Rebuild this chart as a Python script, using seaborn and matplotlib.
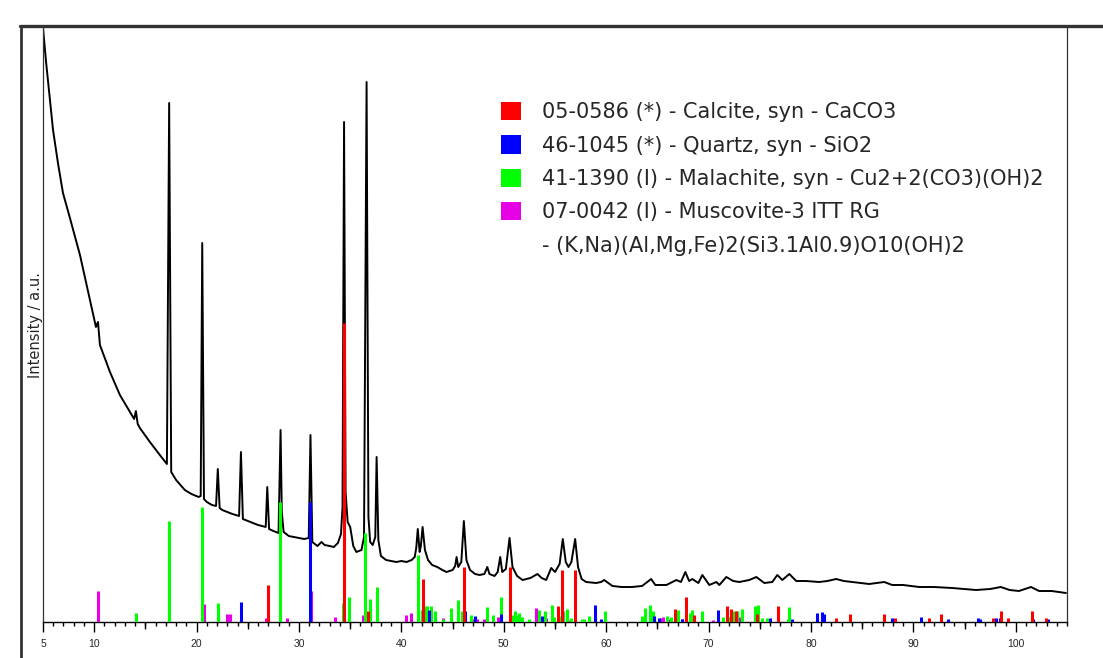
import numpy as np
import pandas as pd
import seaborn as sns
import matplotlib.pyplot as plt
from matplotlib.lines import Line2D
from matplotlib.patches import Patch
from matplotlib.ticker import MultipleLocator

# measured pattern (2theta / intensity, arbitrary units)
two_theta = [5.00, 5.30, 5.68, 5.98, 6.46, 6.95, 7.63, 8.61, 9.59, 10.17, 10.37, 10.56, 11.54, 12.51, 13.49, 13.90,
             14.07, 14.25, 14.46, 15.44, 16.41, 17.10, 17.32, 17.52, 18.00, 18.85, 19.50, 20.20, 20.40, 20.55, 20.72,
             21.00, 21.50, 21.90, 22.07, 22.25, 22.50, 23.00, 23.50, 24.15, 24.33, 24.52, 25.00, 25.50, 26.00, 26.40,
             26.75, 26.90, 27.08, 27.50, 28.00, 28.20, 28.32, 28.50, 29.00, 29.50, 30.00, 30.50, 30.95, 31.12, 31.30,
             31.80, 32.20, 32.50, 33.00, 33.40, 33.80, 34.10, 34.25, 34.40, 34.55, 34.75, 35.00, 35.30, 35.60, 36.10,
             36.35, 36.60, 36.78, 36.95, 37.20, 37.45, 37.58, 37.75, 38.00, 38.50, 39.00, 39.50, 40.00, 40.50, 41.00,
             41.30, 41.45, 41.60, 41.78, 41.90, 42.07, 42.30, 42.60, 43.00, 43.50, 44.00, 44.40, 45.00, 45.25, 45.39,
             45.55, 45.85, 46.10, 46.35, 46.70, 47.20, 47.63, 48.10, 48.39, 48.60, 49.10, 49.40, 49.65, 49.85, 50.20,
             50.56, 50.85, 51.30, 51.83, 52.60, 53.29, 53.70, 54.14, 54.63, 55.00, 55.45, 55.76, 56.05, 56.32, 56.60,
             56.97, 57.25, 57.60, 58.04, 59.02, 59.50, 59.80, 60.61, 61.50, 62.50, 63.50, 64.39, 64.80, 65.88, 66.85,
             67.30, 67.73, 68.10, 68.41, 69.00, 69.39, 70.07, 70.76, 71.05, 71.73, 72.40, 73.00, 73.97, 74.66, 75.44,
             76.22, 76.71, 77.20, 77.88, 78.56, 79.50, 80.80, 81.60, 82.46, 83.20, 84.02, 85.68, 87.15, 87.93, 89.00,
             90.56, 92.00, 93.78, 95.00, 96.12, 97.50, 98.53, 99.40, 100.30, 101.49, 102.27, 103.50, 104.90]
intensity = [594, 560, 522, 492, 459, 429, 404, 367, 322, 295, 300, 277, 250, 227, 210, 203,
             211, 198, 194, 180, 167, 158, 519, 150, 142, 132, 128, 125, 126, 379, 123,
             120, 117, 116, 153, 114, 112, 110, 108, 106, 170, 103, 101, 99, 97, 96,
             95, 135, 93, 91, 89, 192, 110, 90, 86, 85, 84, 83, 84, 187, 80,
             76, 80, 77, 76, 75, 79, 88, 115, 500, 130, 100, 95, 76, 70, 72,
             85, 540, 105, 80, 77, 85, 165, 82, 66, 62, 61, 60, 61, 60, 62,
             65, 74, 93, 70, 76, 95, 72, 62, 57, 55, 52, 50, 52, 56, 65,
             55, 60, 101, 62, 52, 48, 47, 48, 55, 48, 46, 50, 65, 50, 53,
             84, 55, 46, 42, 44, 48, 44, 42, 54, 50, 58, 83, 60, 55, 60,
             83, 55, 43, 40, 39, 40, 42, 36, 35, 35, 36, 43, 37, 37, 42,
             40, 50, 41, 43, 39, 47, 37, 40, 37, 45, 41, 40, 42, 45, 39,
             40, 47, 42, 48, 41, 41, 40, 41, 43, 41, 40, 38, 40, 37, 37,
             35, 35, 34, 33, 32, 33, 35, 32, 31, 35, 31, 31, 29]

# reference sticks
calcite_pos = [26.95, 34.40, 36.70, 42.07, 46.14, 50.56, 55.31, 55.73, 57.00, 66.76, 67.76, 68.61, 71.80, 72.22,
               72.67, 74.69, 76.74, 82.46, 83.76, 87.15, 88.19, 91.54, 92.70, 97.75, 98.53, 99.27, 101.60, 102.98]
calcite_int = [37, 299, 11, 43, 55, 55, 16, 52, 52, 13, 25, 7, 16, 13,
               11, 8, 16, 4, 8, 8, 4, 4, 8, 4, 11, 4, 11, 4]

quartz_pos = [24.35, 31.12, 42.72, 46.20, 47.15, 49.75, 53.75, 58.95, 59.54, 64.70, 65.20, 67.45, 70.95, 75.96,
              78.17, 80.58, 81.07, 81.30, 87.93, 90.72, 93.36, 96.30, 96.50, 98.04, 98.50, 101.70, 103.17]
quartz_int = [20, 120, 12, 11, 6, 8, 6, 17, 3, 6, 4, 3, 12, 4,
              3, 9, 10, 8, 4, 5, 3, 4, 3, 4, 4, 3, 3]

malachite_pos = [14.07, 17.32, 20.55, 22.07, 28.12, 34.33, 34.92, 36.48, 36.90, 37.58, 41.65, 42.00, 42.30, 42.50,
                 42.85, 43.24, 44.08, 44.80, 45.49, 45.94, 46.76, 48.32, 48.94, 49.68, 50.88, 51.10, 51.34, 51.50,
                 51.80, 52.50, 53.40, 53.98, 54.66, 54.95, 55.63, 55.80, 56.22, 56.60, 57.60, 57.84, 58.36, 59.93,
                 63.54, 63.83, 64.29, 64.60, 65.98, 66.37, 67.05, 68.22, 68.41, 69.32, 71.41, 71.93, 72.40, 72.80,
                 73.22, 74.56, 74.82, 75.18, 75.73, 77.75, 77.88]
malachite_int = [9, 101, 115, 19, 120, 19, 25, 89, 23, 35, 67, 12, 16, 16,
                 16, 11, 3, 14, 22, 11, 7, 15, 7, 25, 7, 11, 7, 9,
                 5, 3, 12, 11, 17, 5, 6, 11, 13, 4, 3, 3, 6, 11,
                 6, 14, 17, 11, 6, 5, 12, 9, 12, 11, 5, 5, 11, 11,
                 13, 16, 17, 4, 4, 3, 15]

muscovite_pos = [10.37, 20.70, 22.92, 23.24, 26.82, 28.80, 31.20, 33.55, 36.22, 40.41, 40.90, 41.98, 44.02, 46.85,
                 47.41, 48.02, 49.46, 51.40, 53.17, 54.14, 56.50, 65.39, 65.52, 66.17, 67.37, 70.46, 72.00, 73.06]
muscovite_int = [31, 18, 8, 8, 4, 4, 31, 5, 7, 7, 9, 5, 4, 3,
                 3, 3, 5, 3, 14, 4, 2, 4, 5, 3, 3, 2, 2, 5]

labels = ["05-0586 (*) - Calcite, syn - CaCO3",
          "46-1045 (*) - Quartz, syn - SiO2",
          "41-1390 (I) - Malachite, syn - Cu2+2(CO3)(OH)2",
          "07-0042 (I) - Muscovite-3 ITT RG",
          "- (K,Na)(Al,Mg,Fe)2(Si3.1Al0.9)O10(OH)2"]
colors = ["#ff0000", "#0000ff", "#00ff00", "#e600e6"]

sns.set_style("white")
fig = plt.figure(figsize=(11.03, 6.58), dpi=100)
ax = fig.add_axes([43 / 1103, 36 / 658, 1024 / 1103, 595 / 658])

df = pd.DataFrame({"two_theta": two_theta, "intensity": intensity})
sns.lineplot(data=df, x="two_theta", y="intensity", color="black", lw=1.4, ax=ax, zorder=2)

# sticks, drawn over the pattern
sticks = [(muscovite_pos, muscovite_int, colors[3]),
          (malachite_pos, malachite_int, colors[2]),
          (quartz_pos, quartz_int, colors[1]),
          (calcite_pos, calcite_int, colors[0])]
for pos, val, c in sticks:
    ax.vlines(pos, 0, val, colors=c, lw=2.2, zorder=3)

ax.set_xlim(5, 105)
ax.set_ylim(0, 595)
ax.set_yticks([])
ax.set_xlabel("")
ax.set_ylabel("Intensity / a.u.", fontsize=10.5, family="DejaVu Sans")
ax.yaxis.set_label_coords(0.0, 0.5)

ax.set_xticks([5, 10, 20, 30, 40, 50, 60, 70, 80, 90, 100])
ax.set_xticklabels(["5", "10", "20", "30", "40", "50", "60", "70", "80", "90", "100"],
                   fontsize=7.5, family="Liberation Sans")
ax.xaxis.set_minor_locator(MultipleLocator(1))
ax.tick_params(axis="x", which="major", direction="out", length=7, width=1, pad=5, bottom=True, color="black")
ax.tick_params(axis="x", which="minor", direction="out", length=3, width=1, bottom=True, color="black")

sec = ax.secondary_xaxis("bottom")
sec.set_xticks(list(range(15, 101, 10)))
sec.tick_params(length=5, width=1, labelbottom=False, color="black")
sec.spines["bottom"].set_visible(False)

ax.spines["top"].set_visible(False)
ax.spines["bottom"].set_color("black")
ax.spines["bottom"].set_linewidth(1.0)
for s in ["left", "right"]:
    ax.spines[s].set_color("#333333")
    ax.spines[s].set_linewidth(0.9)

handles = [Patch(facecolor=c, edgecolor="none") for c in colors]
handles.append(Patch(facecolor="none", edgecolor="none"))
ax.legend(handles, labels, loc="upper left", bbox_to_anchor=(0.447, 0.874), frameon=False,
          prop={"family": "DejaVu Sans", "size": 15}, handlelength=0.97, handleheight=0.97,
          handletextpad=1.0, labelspacing=0.63, borderpad=0, borderaxespad=0)

# outer frame lines
fig.add_artist(Line2D([20 / 1103, 1], [1 - 26 / 658, 1 - 26 / 658], transform=fig.transFigure,
                      color="#333333", lw=2.4))
fig.add_artist(Line2D([21 / 1103, 21 / 1103], [0, 1 - 26 / 658], transform=fig.transFigure,
                      color="#333333", lw=2.0))

fig.savefig("out.png", dpi=100)
